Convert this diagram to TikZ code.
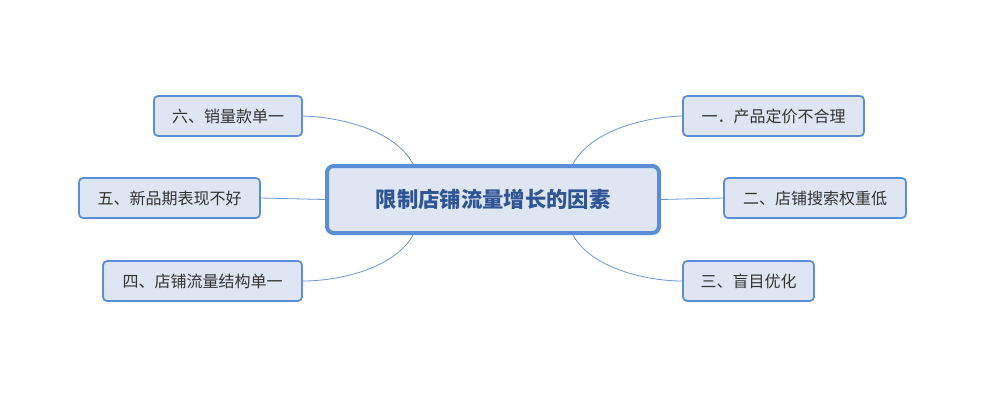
\documentclass[tikz,border=0pt]{standalone}
\usepackage{fontspec}
\setmainfont{Noto Sans CJK SC}
\definecolor{bd}{HTML}{5B8ED6}
\definecolor{fl}{HTML}{DDE6F2}
\definecolor{tx}{HTML}{333333}
\definecolor{ct}{HTML}{2F5597}
\definecolor{ln}{HTML}{6C97D2}
\begin{document}
\begin{tikzpicture}[x=0.75pt,y=-0.75pt,
  leaf/.style={draw=bd,line width=1.3pt,fill=fl,rounded corners=3pt,inner sep=0pt,font=\fontsize{12}{14}\selectfont,text=tx},
  root/.style={draw=bd,line width=3pt,fill=fl,rounded corners=5pt,inner sep=0pt,font=\fontsize{16}{19}\selectfont\bfseries,text=ct},
  conn/.style={draw=ln,line width=0.6pt}]
\useasboundingbox (0,0) rectangle (1000,404);
\node[root,minimum width=249pt,minimum height=50.25pt] (c) at (493,199.5) {限制店铺流量增长的因素};
\node[leaf,minimum width=111pt,minimum height=30pt] (l1) at (228,116) {六、销量款单一};
\node[leaf,minimum width=135.75pt,minimum height=30pt] (l2) at (169.5,198) {五、新品期表现不好};
\node[leaf,minimum width=149.25pt,minimum height=30pt] (l3) at (202.5,281) {四、店铺流量结构单一};
\node[leaf,minimum width=135.75pt,minimum height=30pt] (r1) at (773.5,116) {一．产品定价不合理};
\node[leaf,minimum width=136.5pt,minimum height=30pt] (r2) at (815,198) {二、店铺搜索权重低};
\node[leaf,minimum width=98.25pt,minimum height=30pt] (r3) at (748.5,281) {三、盲目优化};
\coordinate (ctl) at (413,164);
\coordinate (cbl) at (413,235);
\coordinate (ctr) at (573,164);
\coordinate (cbr) at (573,235);
\draw[conn] (ctl) .. controls (395,130) and (340,117) .. (l1.east);
\draw[conn] (c.west) -- (l2.east);
\draw[conn] (cbl) .. controls (395,268) and (340,281) .. (l3.east);
\draw[conn] (ctr) .. controls (591,130) and (646,117) .. (r1.west);
\draw[conn] (c.east) -- (r2.west);
\draw[conn] (cbr) .. controls (591,268) and (646,281) .. (r3.west);
\end{tikzpicture}
\end{document}
